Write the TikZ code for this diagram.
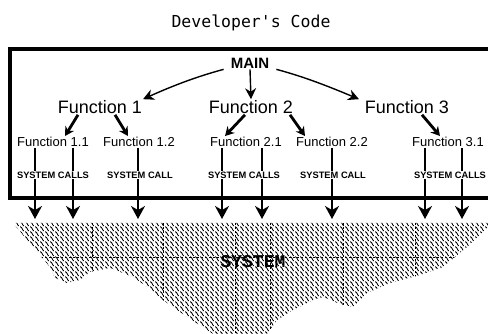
\documentclass[tikz,border=0pt]{standalone}
\usepackage{fontspec}
\setmainfont{Liberation Sans}
\newfontfamily\titlefont{DejaVu Sans Mono}
\newfontfamily\sysfont{Liberation Mono}
\usetikzlibrary{arrows.meta,patterns}
\pgfdeclarepatternformonly{dither}{\pgfpointorigin}{\pgfqpoint{5pt}{5pt}}{\pgfqpoint{5pt}{5pt}}{%
  \pgfpathrectangle{\pgfqpoint{0pt}{2pt}}{\pgfqpoint{1.2pt}{1.2pt}}%
  \pgfpathrectangle{\pgfqpoint{1pt}{1pt}}{\pgfqpoint{1.2pt}{1.2pt}}%
  \pgfpathrectangle{\pgfqpoint{2pt}{0pt}}{\pgfqpoint{1.2pt}{1.2pt}}%
  \pgfpathrectangle{\pgfqpoint{2.5pt}{4.5pt}}{\pgfqpoint{1.2pt}{1.2pt}}%
  \pgfpathrectangle{\pgfqpoint{3.5pt}{3.5pt}}{\pgfqpoint{1.2pt}{1.2pt}}%
  \pgfusepath{fill}}
\begin{document}
\begin{tikzpicture}[x=1pt,y=-1pt,
  ttl/.style={font=\titlefont\fontsize{16.5}{16.5}\selectfont, inner sep=1pt},
  mainnode/.style={font=\fontsize{15}{15}\selectfont\bfseries, inner sep=1pt},
  fn/.style={font=\fontsize{18}{18}\selectfont, inner sep=1pt},
  sub/.style={font=\fontsize{13}{13}\selectfont, inner sep=1pt},
  sc/.style={font=\fontsize{9.3}{9.3}\selectfont\bfseries, inner sep=1pt},
  boxline/.style={line width=3.5pt},
  mainarrow/.style={line width=1.4pt, -{Stealth[length=11pt,width=11pt]}},
  subarrow/.style={line width=2.8pt, -{Stealth[length=9pt,width=10pt]}},
  sysline/.style={line width=1.3pt},
  sysarrow/.style={line width=1.5pt, -{Stealth[length=13pt,width=14pt,inset=4pt]}},
  grid/.style={line width=0.8pt, dash pattern=on 2pt off 2pt}
]
\useasboundingbox (0,0) rectangle (488,334);

% title
\node[ttl] (title) at (251,23) {Developer's Code};

% box (open on the right)
\draw[boxline] (490,49) -- (10,49) -- (10,198) -- (490,198);

% system region
\def\sysregion{(13,223) -- (488,223) -- (488,227) -- (467,247) -- (443,267) -- (420,275)
  -- (390,283) -- (367,293) -- (353,307) -- (340,304) -- (323,297) -- (313,300)
  -- (293,310) -- (277,320) -- (267,334) -- (213,334) -- (207,330) -- (187,317)
  -- (177,310) -- (163,300) -- (147,287) -- (133,277) -- (110,268) -- (90,272)
  -- (80,280) -- (67,283) -- (55,278) -- (50,267) -- (33,247) -- cycle}
\path[pattern=dither, pattern color=black] \sysregion;
\begin{scope}
  \clip \sysregion;
  \foreach \gx in {92,163,235,270,343,415} \draw[grid] (\gx,223) -- (\gx,334);
  \draw[grid] (13,257) -- (488,257);
\end{scope}
\node[font=\sysfont\fontsize{18}{18}\selectfont\bfseries, inner sep=1pt] (system) at (253,262) {SYSTEM};

% level 0 and 1
\node[mainnode] (main) at (250,63) {MAIN};
\node[fn] (f1) at (100,107) {Function 1};
\node[fn] (f2) at (251,107) {Function 2};
\node[fn] (f3) at (407,107) {Function 3};

% level 2
\node[sub] (f11) at (53,142) {Function 1.1};
\node[sub] (f12) at (139,142) {Function 1.2};
\node[sub] (f21) at (246,142) {Function 2.1};
\node[sub] (f22) at (332,142) {Function 2.2};
\node[sub] (f31) at (448,142) {Function 3.1};

% system call labels
\node[sc] (s11) at (53,175) {SYSTEM CALLS};
\node[sc] (s12) at (140,175) {SYSTEM CALL};
\node[sc] (s21) at (244,175) {SYSTEM CALLS};
\node[sc] (s22) at (333,175) {SYSTEM CALL};
\node[sc] (s31) at (450,175) {SYSTEM CALLS};

% arrows from MAIN
\draw[mainarrow] ([xshift=-6pt]main.south west) .. controls (195,77) and (170,87) .. ([xshift=43pt,yshift=0pt]f1.north);
\draw[mainarrow] (main.south) -- (f2.north);
\draw[mainarrow] ([xshift=6pt]main.south east) .. controls (305,77) and (330,87) .. ([xshift=-48pt,yshift=0pt]f3.north);

% arrows to level 2
\draw[subarrow] ([xshift=-22pt]f1.south) -- ([xshift=12pt]f11.north);
\draw[subarrow] ([xshift=15pt]f1.south) -- ([xshift=-11pt]f12.north);
\draw[subarrow] ([xshift=-6pt]f2.south) -- ([xshift=-21pt]f21.north);
\draw[subarrow] ([xshift=39pt]f2.south) -- ([xshift=-27pt]f22.north);
\draw[subarrow] ([xshift=15pt]f3.south) -- ([xshift=-8pt]f31.north);

% system call lines and arrows
\coordinate (e1) at (35,219);
\coordinate (e2) at (73,219);
\coordinate (e3) at (138,219);
\coordinate (e4) at (222,219);
\coordinate (e5) at (262,219);
\coordinate (e6) at (332,219);
\coordinate (e7) at (425,219);
\coordinate (e8) at (462,219);
\foreach \f/\s/\e in {f11/s11/e1, f11/s11/e2, f12/s12/e3, f21/s21/e4, f21/s21/e5, f22/s22/e6, f31/s31/e7, f31/s31/e8}{
  \draw[sysline] (\f.south -| \e) -- (\s.north -| \e);
  \draw[sysarrow] (\s.south -| \e) -- (\e);
}
\end{tikzpicture}
\end{document}
